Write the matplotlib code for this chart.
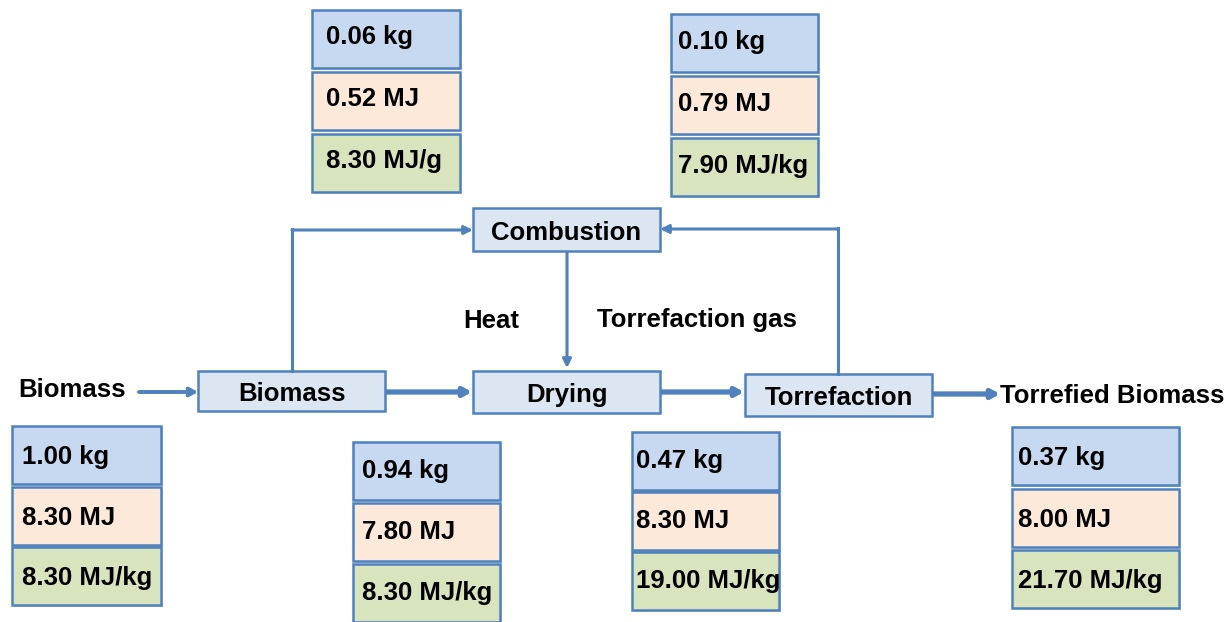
import matplotlib.pyplot as plt
from matplotlib.patches import Rectangle
import matplotlib.patheffects as pe

plt.rcParams['font.family'] = ['Liberation Sans', 'DejaVu Sans']

# values shown in the three-row stacks (mass, energy, heating value)
streams = ['Biomass in', 'Heat', 'Drying', 'Torrefaction gas', 'Torrefaction', 'Torrefied Biomass']
mass_kg = [1.00, 0.06, 0.94, 0.10, 0.47, 0.37]
energy_mj = [8.30, 0.52, 7.80, 0.79, 8.30, 8.00]
heating_value = [8.30, 8.30, 8.30, 7.90, 19.00, 21.70]
heating_unit = ['MJ/kg', 'MJ/g', 'MJ/kg', 'MJ/kg', 'MJ/kg', 'MJ/kg']

process_steps = ['Biomass', 'Drying', 'Torrefaction', 'Combustion']

# layout in pixel coords (y down)
stack_x = [12, 312, 353, 671, 632, 1012]
stack_w = [149, 148, 147, 147, 147, 167]
stack_rows = [(426, 487, 547), (10, 72, 134), (442, 503, 564),
              (14, 76, 138), (432, 492, 552), (427, 489, 550)]
stack_h = 58
text_dx = [10, 14, 9, 7, 4, 6]
text_dy = [2, -2, 0, -1, 0, 2]

proc_box = {'Biomass': (198, 371, 187, 40), 'Drying': (473, 371, 187, 42),
            'Torrefaction': (745, 374, 187, 42), 'Combustion': (473, 208, 187, 43)}

edge = '#4f81bd'
fills = ['#c6d9f1', '#fde9d9', '#d7e4bd']
proc_fill = '#dce6f2'

fig = plt.figure(figsize=(12.27, 6.22), dpi=100)
ax = fig.add_axes([0, 0, 1, 1])
ax.set_xlim(0, 1227)
ax.set_ylim(622, 0)
ax.axis('off')

shadow = [pe.SimplePatchShadow(offset=(1.5, -1.5), shadow_rgbFace='#b0b0b0', alpha=0.5), pe.Normal()]

for i, name in enumerate(streams):
    labels = ['%.2f kg' % mass_kg[i], '%.2f MJ' % energy_mj[i],
              '%.2f %s' % (heating_value[i], heating_unit[i])]
    for r in range(3):
        y0 = stack_rows[i][r]
        rect = Rectangle((stack_x[i], y0), stack_w[i], stack_h, facecolor=fills[r],
                         edgecolor=edge, lw=1.8, zorder=2)
        rect.set_path_effects(shadow)
        ax.add_patch(rect)
        ax.text(stack_x[i] + text_dx[i], y0 + stack_h / 2 + text_dy[i], labels[r],
                fontsize=18.5, fontweight='bold', ha='left', va='center', zorder=3)

for name in process_steps:
    x, y, w, h = proc_box[name]
    rect = Rectangle((x, y), w, h, facecolor=proc_fill, edgecolor=edge, lw=1.8, zorder=2)
    ax.add_patch(rect)
    ax.text(x + w / 2, y + h / 2 + 3, name, fontsize=18.5, fontweight='bold',
            ha='center', va='center', zorder=3)

# free labels
ax.text(18, 390, 'Biomass', fontsize=18.5, fontweight='bold', ha='left', va='center')
ax.text(1000, 396, 'Torrefied Biomass', fontsize=18.5, fontweight='bold', ha='left', va='center')
ax.text(463, 321, 'Heat', fontsize=18.5, fontweight='bold', ha='left', va='center')
ax.text(597, 320, 'Torrefaction gas', fontsize=18.5, fontweight='bold', ha='left', va='center')


def arrow(x0, y0, x1, y1, lw, hl=0.5, hw=0.3):
    ax.annotate('', xy=(x1, y1), xytext=(x0, y0),
                arrowprops=dict(arrowstyle='-|>,head_length=%s,head_width=%s' % (hl, hw),
                                color=edge, lw=lw, shrinkA=0, shrinkB=0), zorder=1)


# main line
arrow(139, 392, 198, 392, 2.8, 0.45, 0.25)
arrow(385, 392, 472, 392, 3.8, 0.45, 0.25)
arrow(660, 392, 744, 392, 3.8, 0.45, 0.25)
arrow(932, 394, 1000, 394, 3.8, 0.45, 0.25)

# loops to combustion
ax.plot([292, 292], [371, 229], color=edge, lw=2.2, solid_capstyle='projecting')
arrow(292, 230, 473, 230, 2.2, 0.5, 0.25)
ax.plot([838, 838], [374, 228], color=edge, lw=2.2, solid_capstyle='projecting')
arrow(838, 229, 660, 229, 2.2, 0.5, 0.25)
arrow(567, 251, 567, 368, 2.2, 0.5, 0.25)

fig.savefig('out.png', dpi=100)
